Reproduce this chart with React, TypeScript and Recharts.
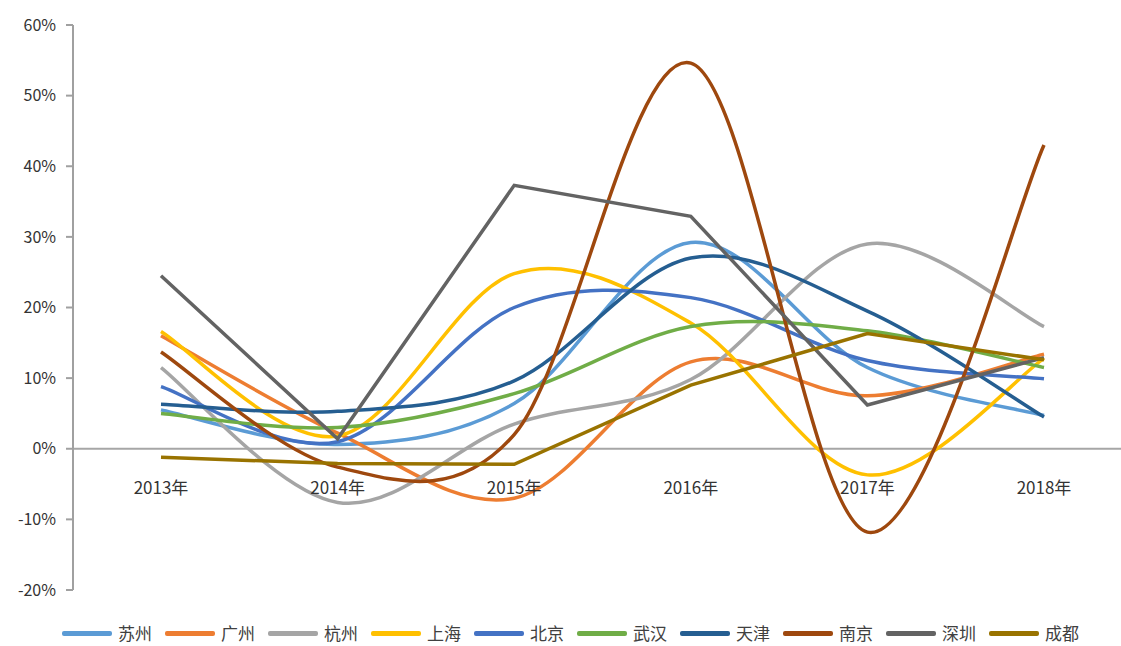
import React from "react";
import { LineChart, Line, XAxis, YAxis, ReferenceLine } from "recharts";

const years = ["2013年", "2014年", "2015年", "2016年", "2017年", "2018年"];
const yTicks = [-20, -10, 0, 10, 20, 30, 40, 50, 60];

const suzhou = [5.5, 0.6, 6.4, 29.2, 11.5, 4.7];
const guangzhou = [16.0, 2.2, -7.0, 12.3, 7.5, 13.4];
const hangzhou = [11.5, -7.6, 3.5, 9.8, 29.0, 17.3];
const shanghai = [16.6, 1.8, 24.8, 17.8, -3.7, 12.8];
const beijing = [8.8, 1.0, 20.0, 21.4, 12.5, 9.9];
const wuhan = [5.0, 3.0, 7.8, 17.3, 16.7, 11.5];
const tianjin = [6.3, 5.3, 9.6, 27.0, 19.5, 4.5];
const nanjing = [13.7, -2.6, 2.0, 54.6, -11.8, 43.0];
const shenzhen = [24.5, 1.4, 37.3, 32.9, 6.2, 12.9];
const chengdu = [-1.2, -2.1, -2.2, 9.0, 16.3, 12.6];

const series = [
  { name: "苏州", values: suzhou, color: "#5B9BD5", smooth: true },
  { name: "广州", values: guangzhou, color: "#ED7D31", smooth: true },
  { name: "杭州", values: hangzhou, color: "#A5A5A5", smooth: true },
  { name: "上海", values: shanghai, color: "#FFC000", smooth: true },
  { name: "北京", values: beijing, color: "#4472C4", smooth: true },
  { name: "武汉", values: wuhan, color: "#70AD47", smooth: true },
  { name: "天津", values: tianjin, color: "#255E91", smooth: true },
  { name: "南京", values: nanjing, color: "#9E480E", smooth: true },
  { name: "深圳", values: shenzhen, color: "#636363", smooth: false },
  { name: "成都", values: chengdu, color: "#997300", smooth: false },
];

const data = years.map((year, i) => {
  const row: Record<string, any> = { year };
  series.forEach((s) => {
    row[s.name] = s.values[i];
  });
  return row;
});

// Excel-style smoothing: catmull-rom bezier, control points at 1/6
const excelCurve = (context: any) => {
  let pts: [number, number][] = [];
  return {
    areaStart() {},
    areaEnd() {},
    lineStart() {
      pts = [];
    },
    lineEnd() {
      if (!pts.length) return;
      context.moveTo(pts[0][0], pts[0][1]);
      for (let i = 0; i < pts.length - 1; i++) {
        const p0 = pts[i - 1] || pts[i];
        const p1 = pts[i];
        const p2 = pts[i + 1];
        const p3 = pts[i + 2] || p2;
        context.bezierCurveTo(
          p1[0] + (p2[0] - p0[0]) / 6,
          p1[1] + (p2[1] - p0[1]) / 6,
          p2[0] - (p3[0] - p1[0]) / 6,
          p2[1] - (p3[1] - p1[1]) / 6,
          p2[0],
          p2[1]
        );
      }
    },
    point(x: number, y: number) {
      pts.push([+x, +y]);
    },
  };
};

const font = "'Noto Sans CJK SC', 'Noto Sans', sans-serif";

const YearTick = (props: any) => {
  const { x, y, payload } = props;
  return (
    <text
      x={x}
      y={y - 112}
      textAnchor="middle"
      dominantBaseline="central"
      fontFamily={font}
      fontSize={17}
      fill="#333"
    >
      {payload.value}
    </text>
  );
};

export default function App() {
  return (
    <div
      style={{
        position: "absolute",
        left: 0,
        top: 0,
        width: 1121,
        height: 646,
        overflow: "hidden",
        background: "#fff",
      }}
    >
      <LineChart
        width={1140}
        height={646}
        data={data}
        margin={{ top: 25, right: 8, bottom: 26, left: 13 }}
      >
        <XAxis
          dataKey="year"
          height={30}
          axisLine={false}
          tickLine={false}
          padding={{ left: 88, right: 88 }}
          tick={<YearTick />}
          interval={0}
        />
        <YAxis
          width={60}
          domain={[-20, 60]}
          ticks={yTicks}
          interval={0}
          tickFormatter={(v: number) => `${v}%`}
          stroke="#a0a0a0"
          strokeWidth={2}
          tickSize={7}
          tickMargin={10}
          tick={{ fill: "#333", fontSize: 16, fontFamily: font }}
        />
        <ReferenceLine y={0} stroke="#a6a6a6" strokeWidth={2} />
        {series.map((s) => (
          <Line
            key={s.name}
            dataKey={s.name}
            type={s.smooth ? (excelCurve as any) : "linear"}
            stroke={s.color}
            strokeWidth={3.5}
            dot={false}
            activeDot={false}
            isAnimationActive={false}
          />
        ))}
      </LineChart>
      <div
        style={{
          position: "absolute",
          left: 62,
          top: 622,
          display: "flex",
          alignItems: "center",
          fontFamily: font,
          fontSize: 17,
          color: "#404040",
        }}
      >
        {series.map((s) => (
          <div
            key={s.name}
            style={{ display: "flex", alignItems: "center", width: 103, height: 22 }}
          >
            <span
              style={{
                display: "inline-block",
                width: 50,
                height: 5,
                borderRadius: 2,
                background: s.color,
                marginRight: 6,
              }}
            />
            <span style={{ lineHeight: "22px" }}>{s.name}</span>
          </div>
        ))}
      </div>
    </div>
  );
}
